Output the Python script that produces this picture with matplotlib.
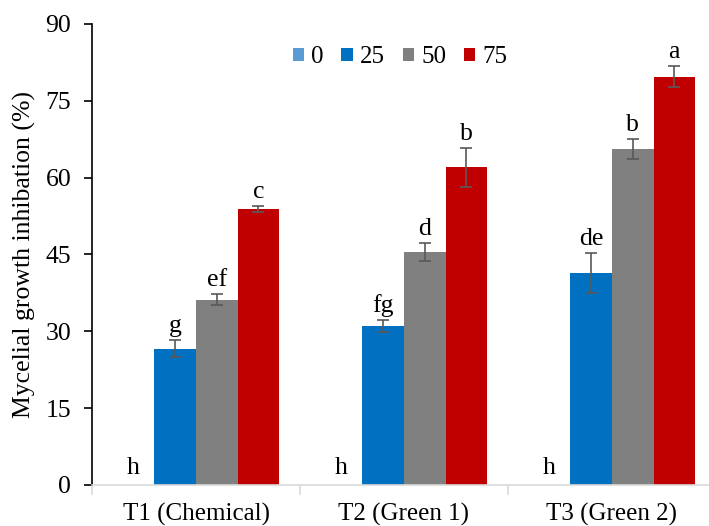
import numpy as np
import matplotlib.pyplot as plt

plt.rcParams['font.family'] = ['Liberation Serif', 'DejaVu Serif']

treatments = ["T1 (Chemical)", "T2 (Green 1)", "T3 (Green 2)"]
doses = ["0", "25", "50", "75"]
colors = ["#5B9BD5", "#0070C0", "#808080", "#C00000"]

# inhibition (%) per dose, one value per treatment
vals_0 = [0.0, 0.0, 0.0]
vals_25 = [26.6, 31.0, 41.3]
vals_50 = [36.2, 45.5, 65.6]
vals_75 = [53.9, 62.0, 79.7]

err_0 = [0.0, 0.0, 0.0]
err_25 = [1.7, 1.2, 3.9]
err_50 = [1.0, 1.7, 1.9]
err_75 = [0.6, 3.8, 2.0]

letters_0 = ["h", "h", "h"]
letters_25 = ["g", "fg", "de"]
letters_50 = ["ef", "d", "b"]
letters_75 = ["c", "b", "a"]

values = [vals_0, vals_25, vals_50, vals_75]
errors = [err_0, err_25, err_50, err_75]
letters = [letters_0, letters_25, letters_50, letters_75]

fig = plt.figure(figsize=(7.09, 5.26), dpi=100)
ax = fig.add_axes([0.1298, 0.078, 0.880, 0.8764])

x = np.arange(len(treatments))
w = 0.2
for i, dose in enumerate(doses):
    pos = x + (i - 1.5) * w
    ax.bar(pos, values[i], width=w, color=colors[i], label=dose, zorder=2)
    if i > 0:
        ax.errorbar(pos, values[i], yerr=errors[i], fmt='none', ecolor='#595959',
                    elinewidth=1.2, capsize=4, capthick=1.2, zorder=3)
    for p, v, e, t in zip(pos, values[i], errors[i], letters[i]):
        if v == 0:
            ax.text(p, 1.2, t, ha='center', va='bottom', fontsize=18.5)
        else:
            ax.text(p, v + e + 0.6, t, ha='center', va='bottom', fontsize=18.5)

ax.set_xlim(-0.5, 2.5)
ax.set_ylim(0, 90)
ax.set_yticks(np.arange(0, 91, 15))
ax.set_xticks(x)
ax.set_xticklabels(treatments)
ax.set_xticks([-0.5, 0.5, 1.5, 2.5], minor=True)
ax.tick_params(axis='x', which='major', length=0, pad=13, labelsize=18)
ax.tick_params(axis='x', which='minor', length=7, color='#D9D9D9', width=1.2)
ax.tick_params(axis='y', length=6, width=1.2, labelsize=18.5, pad=9)
ax.set_ylabel("Mycelial growth inhibation (%)", fontsize=18.5, labelpad=7)

ax.spines['top'].set_visible(False)
ax.spines['right'].set_visible(False)
ax.spines['left'].set_linewidth(1.2)
ax.spines['bottom'].set_color('#D9D9D9')
ax.spines['bottom'].set_linewidth(1.2)

ax.legend(loc='center', bbox_to_anchor=(0.494, 0.928), ncol=4, frameon=False,
          fontsize=18, handlelength=0.45, handleheight=0.45, handletextpad=0.3,
          columnspacing=0.7, borderpad=0)

fig.savefig("out.png", dpi=100)
